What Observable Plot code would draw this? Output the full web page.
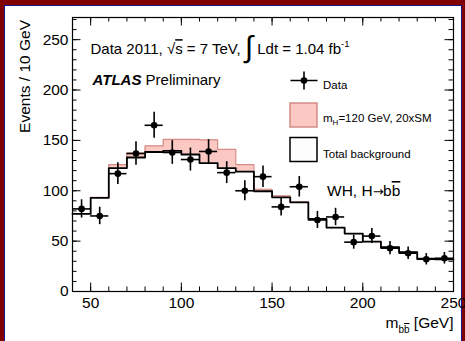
<!DOCTYPE html>
<html>
<head>
<meta charset="utf-8">
<script src="https://cdn.jsdelivr.net/npm/d3@7"></script>
<script src="https://cdn.jsdelivr.net/npm/@observablehq/plot@0.6"></script>
<style>
  html, body { margin: 0; padding: 0; background: #fff; }
  #page { position: relative; width: 465px; height: 341px; background: #800000; overflow: hidden; }
  #sheet { position: absolute; left: 4px; top: 5px; right: 3px; bottom: -4px; background: #fff; border: 1.5px solid #14148c; }
  #chart { position: absolute; left: 0; top: 0; }
</style>
</head>
<body>
<div id="page"><div id="sheet"></div><div id="chart"></div></div>
<script>
// m(bb) distribution, 10 GeV bins from 40 to 250 GeV
const binLow = [40, 50, 60, 70, 80, 90, 100, 110, 120, 130, 140, 150, 160, 170, 180, 190, 200, 210, 220, 230, 240];
const binWidth = 10;
const dataEvents = [82, 75, 117, 137, 165, 138, 131, 139, 118, 100, 114, 84, 104, 71, 74, 49, 55, 43, 38, 32, 33];
const totalBackground = [77, 93, 122.5, 133, 138.5, 139.5, 136, 127.5, 122.5, 119, 99.5, 93.5, 88.5, 72, 63.5, 57.5, 49.5, 44, 39, 32.5, 32];
const higgsSignal = [0.4, 0.4, 3.5, 4.5, 6, 11.5, 15, 23, 18.5, 7, 2, 1.5, 0.5, 0, 0, 0, 0, 0, 0, 0, 0];
const xTickLabels = [50, 100, 150, 200, 250];
const yTickLabels = [0, 50, 100, 150, 200, 250];

const headerText = "Data 2011, √s = 7 TeV, ∫ Ldt = 1.04 fb-1";
const atlasText = "ATLAS Preliminary";
const legendData = "Data";
const legendSignal = "mH=120 GeV, 20xSM";
const legendBackground = "Total background";
const channelText = "WH, H→bb";
const xTitle = "mbb [GeV]";
const yTitle = "Events / 10 GeV";

// layout
const W = 465, H = 341;
const M = {top: 17, right: 12, bottom: 50, left: 72};
const fw = W - M.left - M.right;
const fh = H - M.top - M.bottom;

const bins = binLow.map((lo, i) => ({
  lo, hi: lo + binWidth, mid: lo + binWidth / 2,
  n: dataEvents[i], bg: totalBackground[i], top: totalBackground[i] + higgsSignal[i]
}));
const last = bins[bins.length - 1];
const steps = bins.map(b => ({x: b.lo, bg: b.bg, top: b.top}))
  .concat({x: last.hi, bg: last.bg, top: last.top});

const minorX = d3.range(40, 251, 10);
const minorY = d3.range(0, 271, 10);

// legend marker: data point with error bars
const errorCross = {
  draw(context, size) {
    const r = Math.sqrt(size / Math.PI);
    context.moveTo(-r, 0); context.lineTo(r, 0);
    context.moveTo(0, -r * 0.66); context.lineTo(0, r * 0.66);
  }
};

const pinkFill = "#fbc8c3", pinkStroke = "#d58c86";

const chart = Plot.plot({
  width: W, height: H,
  marginTop: M.top, marginRight: M.right, marginBottom: M.bottom, marginLeft: M.left,
  style: {fontFamily: "'Liberation Sans', Arial, sans-serif", fontSize: "15.5px", color: "black", background: "transparent", overflow: "visible"},
  x: {domain: [40, 250], ticks: xTickLabels, tickSize: 0, tickPadding: 5, label: null},
  y: {domain: [0, 272], ticks: yTickLabels, tickSize: 0, tickPadding: 4, label: null},
  marks: [
    // signal stacked on the background
    Plot.areaY(steps, {x: "x", y1: "bg", y2: "top", curve: "step-after", fill: pinkFill}),
    Plot.lineY(steps, {x: "x", y: "top", curve: "step-after", stroke: pinkStroke, strokeWidth: 1.2}),
    Plot.lineY(steps, {x: "x", y: "bg", curve: "step-after", stroke: "black", strokeWidth: 1.8}),

    // inward ticks on all four sides
    Plot.tickX(minorX, {x: d => d, insetTop: fh - 4.5, strokeWidth: 1}),
    Plot.tickX(minorX, {x: d => d, insetBottom: fh - 4.5, strokeWidth: 1}),
    Plot.tickX(xTickLabels, {x: d => d, insetTop: fh - 8.5, strokeWidth: 1}),
    Plot.tickX(xTickLabels, {x: d => d, insetBottom: fh - 8.5, strokeWidth: 1}),
    Plot.tickY(minorY, {y: d => d, insetRight: fw - 4.5, strokeWidth: 1}),
    Plot.tickY(minorY, {y: d => d, insetLeft: fw - 4.5, strokeWidth: 1}),
    Plot.tickY(yTickLabels, {y: d => d, insetRight: fw - 8.5, strokeWidth: 1}),
    Plot.tickY(yTickLabels, {y: d => d, insetLeft: fw - 8.5, strokeWidth: 1}),
    Plot.frame({stroke: "black", strokeWidth: 1.2}),

    // data with statistical error bars
    Plot.ruleX(bins, {x: "mid", y1: d => d.n - Math.sqrt(d.n), y2: d => d.n + Math.sqrt(d.n), stroke: "black", strokeWidth: 1.6}),
    Plot.ruleY(bins, {y: "n", x1: "lo", x2: "hi", stroke: "black", strokeWidth: 1.6}),
    Plot.dot(bins, {x: "mid", y: "n", r: 3.3, fill: "black"}),

    // annotations
    Plot.text([headerText], {frameAnchor: "top-left", textAnchor: "start", dx: 18, dy: 26, fontSize: 15}),
    Plot.text([atlasText], {frameAnchor: "top-left", textAnchor: "start", dx: 20, dy: 57, fontSize: 15}),
    Plot.text([channelText], {frameAnchor: "top-left", textAnchor: "start", dx: 254.5, dy: 167.5, fontSize: 15.5}),

    // legend
    Plot.dot([0], {frameAnchor: "top-left", dx: 231.5, dy: 63, r: 13.5, symbol: errorCross, stroke: "black", strokeWidth: 1.6, fill: "none"}),
    Plot.dot([0], {frameAnchor: "top-left", dx: 231.5, dy: 63, r: 3.3, fill: "black"}),
    Plot.frame({fill: pinkFill, stroke: pinkStroke, strokeWidth: 1.5, insetLeft: 217.5, insetRight: 136.5, insetTop: 85.5, insetBottom: 164.5}),
    Plot.frame({fill: "#fdfdfd", stroke: "black", strokeWidth: 1.5, insetLeft: 217.5, insetRight: 136.5, insetTop: 120, insetBottom: 130}),
    Plot.text([legendData], {frameAnchor: "top-left", textAnchor: "start", dx: 250.5, dy: 63, fontSize: 11.5}),
    Plot.text([legendSignal], {frameAnchor: "top-left", textAnchor: "start", dx: 250.5, dy: 96.5, fontSize: 11.5}),
    Plot.text([legendBackground], {frameAnchor: "top-left", textAnchor: "start", dx: 250.5, dy: 132, fontSize: 11.5}),

    // axis titles
    Plot.text([yTitle], {frameAnchor: "top-left", rotate: -90, textAnchor: "end", dx: -54, dy: 2.5, fontSize: 15.5}),
    Plot.text([xTitle], {frameAnchor: "bottom-right", textAnchor: "end", dx: 0, dy: 36.5, fontSize: 15.5})
  ]
});

// typeset sub/superscripts, overlines and the ATLAS logotype
const richText = {
  [headerText]: [
    {t: "Data 2011, √"}, {t: "s", overline: true}, {t: " = 7 TeV, "},
    {t: "∫", size: 30, shift: 3}, {t: " Ldt = 1.04 fb"}, {t: "-1", size: 9.5, shift: -7}
  ],
  [atlasText]: [{t: "ATLAS", bold: true, italic: true}, {t: " Preliminary"}],
  [legendSignal]: [{t: "m"}, {t: "H", size: 8, shift: 3}, {t: "=120 GeV, 20xSM"}],
  [channelText]: [{t: "WH, H"}, {t: "→", size: 13, family: "'DejaVu Sans'", spacing: -0.5}, {t: "b"}, {t: "b", overline: true}],
  [xTitle]: [{t: "m"}, {t: "b", size: 10, shift: 5}, {t: "b", size: 10, shift: 5, overline: true}, {t: " [GeV]"}]
};
d3.select(chart).selectAll("text").each(function() {
  const parts = richText[this.textContent];
  if (!parts) return;
  const el = d3.select(this);
  el.text(null);
  let shift = 0;
  for (const p of parts) {
    const ts = el.append("tspan").text(p.t);
    const s = p.shift || 0;
    if (s !== shift) ts.attr("dy", s - shift);
    shift = s;
    if (p.size) ts.attr("font-size", p.size);
    if (p.family) ts.attr("font-family", p.family);
    if (p.spacing) ts.attr("letter-spacing", p.spacing);
    if (p.bold) ts.attr("font-weight", "bold");
    if (p.italic) ts.attr("font-style", "italic");
    if (p.overline) ts.style("text-decoration", "overline");
  }
});

document.getElementById("chart").appendChild(chart);
</script>
</body>
</html>
